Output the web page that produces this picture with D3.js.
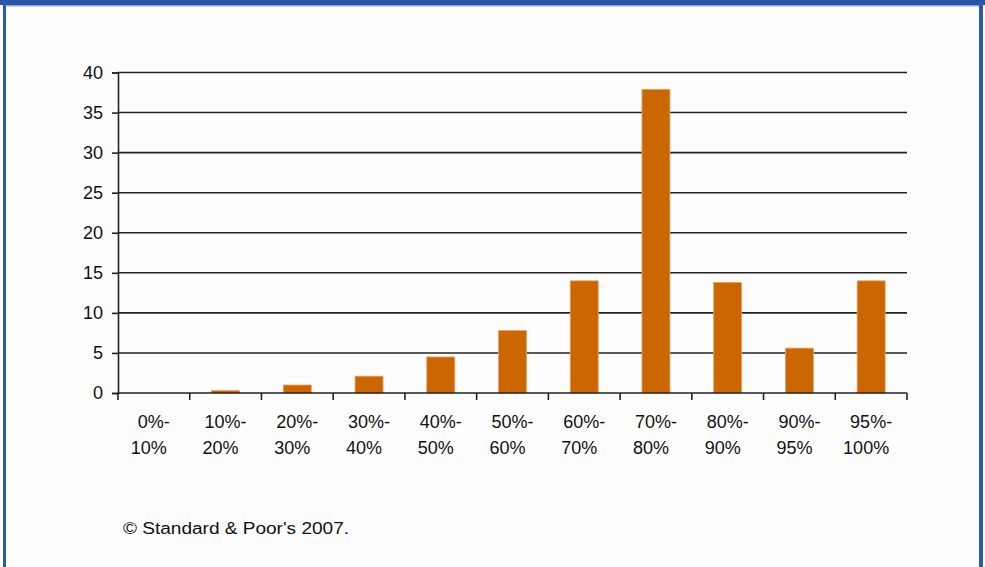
<!DOCTYPE html>
<html>
<head>
<meta charset="utf-8">
<script src="https://cdn.jsdelivr.net/npm/d3@7"></script>
<style>
  body { margin: 0; background: #fff; }
  text { font-family: "Liberation Sans", Arial, sans-serif; fill: #111; }
</style>
</head>
<body>
<svg></svg>
<script>
// bucket labels, split in two lines like the original
const categories = ["0%-10%", "10%-20%", "20%-30%", "30%-40%", "40%-50%", "50%-60%",
                    "60%-70%", "70%-80%", "80%-90%", "90%-95%", "95%-100%"];
const labelTop = ["0%-", "10%-", "20%-", "30%-", "40%-", "50%-", "60%-", "70%-", "80%-", "90%-", "95%-"];
const labelBottom = ["10%", "20%", "30%", "40%", "50%", "60%", "70%", "80%", "90%", "95%", "100%"];
const values = [0, 0.3, 1.0, 2.1, 4.5, 7.8, 14.0, 37.9, 13.8, 5.6, 14.0];
const yTicks = [0, 5, 10, 15, 20, 25, 30, 35, 40];

const W = 985, H = 567;
const svg = d3.select("svg").attr("width", W).attr("height", H);

// panel background and blue frame
svg.append("rect").attr("x", 0).attr("y", 0).attr("width", W).attr("height", H).attr("fill", "#fdfdfd");
svg.append("rect").attr("x", 0).attr("y", 0).attr("width", W).attr("height", 5).attr("fill", "#2754a8");
svg.append("rect").attr("x", 5).attr("y", 5).attr("width", W - 10).attr("height", 1.5).attr("fill", "#8fa8d8");
svg.append("rect").attr("x", 3).attr("y", 0).attr("width", 3).attr("height", H).attr("fill", "#2b58b0");
svg.append("rect").attr("x", 979).attr("y", 0).attr("width", 4).attr("height", H).attr("fill", "#2b58b0");

const plotL = 118, plotR = 907, plotT = 72.5, plotB = 393;

const x = d3.scaleBand().domain(categories).range([plotL, plotR]);
const y = d3.scaleLinear().domain([0, 40]).range([plotB, plotT]);

// gridlines
svg.append("g")
  .selectAll("line")
  .data(yTicks.filter(d => d > 0))
  .join("line")
  .attr("x1", plotL).attr("x2", plotR)
  .attr("y1", d => y(d)).attr("y2", d => y(d))
  .attr("stroke", "#222").attr("stroke-width", 1.6);

// y axis
const yAxis = svg.append("g")
  .attr("transform", `translate(${plotL},0)`)
  .call(d3.axisLeft(y).tickValues(yTicks).tickSize(6).tickPadding(9));
yAxis.select(".domain").attr("stroke", "#222").attr("stroke-width", 1.6);
yAxis.selectAll(".tick line").attr("stroke", "#222").attr("stroke-width", 1.6);
yAxis.selectAll(".tick text")
  .style("font-family", "Liberation Sans, Arial, sans-serif")
  .style("font-size", "18px").attr("fill", "#111");

// bars
const barW = 28;
svg.append("g")
  .selectAll("rect")
  .data(values)
  .join("rect")
  .attr("x", (d, i) => x(categories[i]) + x.bandwidth() / 2 - barW / 2)
  .attr("y", d => y(d))
  .attr("width", barW)
  .attr("height", d => plotB - y(d))
  .attr("fill", "#cc6600")
  .attr("stroke", "#e9a46a")
  .attr("stroke-width", 0.8);

// x axis line and ticks between categories
svg.append("line")
  .attr("x1", plotL).attr("x2", plotR)
  .attr("y1", plotB).attr("y2", plotB)
  .attr("stroke", "#222").attr("stroke-width", 1.6);
svg.append("g")
  .selectAll("line")
  .data(d3.range(categories.length + 1))
  .join("line")
  .attr("x1", i => plotL + i * x.step()).attr("x2", i => plotL + i * x.step())
  .attr("y1", plotB).attr("y2", plotB + 7)
  .attr("stroke", "#222").attr("stroke-width", 1.6);

// category labels
const lab = svg.append("g");
lab.selectAll("text.l1")
  .data(labelTop)
  .join("text")
  .attr("class", "l1")
  .attr("x", (d, i) => x(categories[i]) + x.bandwidth() / 2)
  .attr("y", 428)
  .attr("text-anchor", "middle")
  .style("font-size", "18px")
  .text(d => d);
lab.selectAll("text.l2")
  .data(labelBottom)
  .join("text")
  .attr("class", "l2")
  .attr("x", (d, i) => x(categories[i]) + x.bandwidth() / 2 - 5)
  .attr("y", 454)
  .attr("text-anchor", "middle")
  .style("font-size", "18px")
  .text(d => d);

// source note
svg.append("text")
  .attr("x", 123).attr("y", 534)
  .attr("textLength", 226)
  .attr("lengthAdjust", "spacingAndGlyphs")
  .style("font-size", "16px")
  .text("© Standard & Poor's 2007.");
</script>
</body>
</html>
